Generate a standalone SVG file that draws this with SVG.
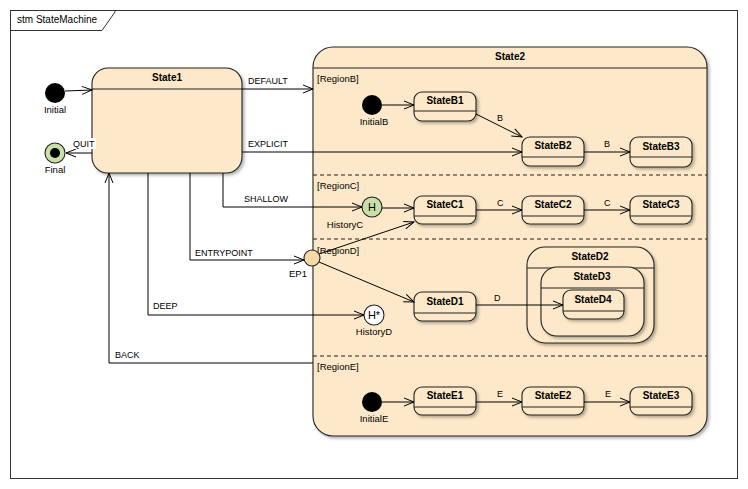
<svg xmlns="http://www.w3.org/2000/svg" width="748" height="489" viewBox="0 0 748 489">
<defs>
<filter id="sh" x="-10%" y="-10%" width="130%" height="130%"><feDropShadow dx="2" dy="2" stdDeviation="1.5" flood-color="#000" flood-opacity="0.3"/></filter>
<marker id="arr" markerWidth="12" markerHeight="10" refX="11" refY="5" orient="auto" markerUnits="userSpaceOnUse"><path d="M1,1 L11,5 L1,9" fill="none" stroke="#000" stroke-width="1"/></marker>
</defs>
<style>
.st{fill:#fde9c9;stroke:#222;stroke-width:1.1;filter:url(#sh)}
.hl{stroke:#222;stroke-width:1.1;fill:none}
.sep{stroke:#222;stroke-width:1;stroke-dasharray:4,3;fill:none}
.tr{fill:none;stroke:#000;stroke-width:1;marker-end:url(#arr)}
.tn{font-family:"Liberation Sans",Arial,sans-serif;font-size:10px;font-weight:bold;fill:#000;text-anchor:middle}
.lb{font-family:"Liberation Sans",Arial,sans-serif;font-size:9px;fill:#000}
.nl{font-family:"Liberation Sans",Arial,sans-serif;font-size:9.5px;fill:#000;text-anchor:middle}
.rg{font-family:"Liberation Sans",Arial,sans-serif;font-size:9.5px;fill:#000}
</style>
<rect x="0" y="0" width="748" height="489" fill="#fff"/>
<g id="frame">
<rect x="10.5" y="10.5" width="727" height="468" fill="#fff" stroke="#333" stroke-width="1"/>
<path d="M10.5,30.5 H102 L115,12 V10.5" fill="none" stroke="#333" stroke-width="1"/>
<text x="17" y="23" class="lb" style="font-size:10px">stm StateMachine</text>
</g>
<g id="State1">
<rect class="st" x="92" y="68" width="150" height="105" rx="16"/>
<line class="hl" x1="92" y1="89" x2="242" y2="89"/>
<text class="tn" x="167" y="81">State1</text>
</g>
<g id="Initial">
<circle cx="55" cy="93" r="10" fill="#000"/>
<text class="nl" x="55" y="113">Initial</text>
</g>
<g id="Final">
<circle cx="55" cy="153" r="10" fill="#c8e0a8" stroke="#222" stroke-width="1.1"/>
<circle cx="55" cy="153" r="5" fill="#000"/>
<text class="nl" x="55" y="173">Final</text>
</g>
<g id="State2">
<rect class="st" x="313" y="47" width="394" height="389" rx="20"/>
<line class="hl" x1="313" y1="68" x2="707" y2="68"/>
<text class="tn" x="510" y="60">State2</text>
<line class="sep" x1="313" y1="175" x2="707" y2="175"/>
<line class="sep" x1="313" y1="239" x2="707" y2="239"/>
<line class="sep" x1="313" y1="356" x2="707" y2="356"/>
<text class="rg" x="317" y="82">[RegionB]</text>
<text class="rg" x="317" y="189">[RegionC]</text>
<text class="rg" x="317" y="254">[RegionD]</text>
<text class="rg" x="317" y="370">[RegionE]</text>
</g>
<g id="InitialB">
<circle cx="372" cy="105" r="10" fill="#000"/>
<text class="nl" x="374" y="125">InitialB</text>
</g>
<g id="StateB1">
<rect class="st" x="414" y="92" width="62" height="29" rx="8"/>
<line class="hl" x1="414" y1="111" x2="476" y2="111"/>
<text class="tn" x="445" y="104">StateB1</text>
</g>
<g id="StateB2">
<rect class="st" x="522" y="137" width="62" height="29" rx="8"/>
<line class="hl" x1="522" y1="157" x2="584" y2="157"/>
<text class="tn" x="553" y="149">StateB2</text>
</g>
<g id="StateB3">
<rect class="st" x="630" y="137" width="62" height="30" rx="8"/>
<line class="hl" x1="630" y1="157" x2="692" y2="157"/>
<text class="tn" x="661" y="150">StateB3</text>
</g>
<g id="HistoryC">
<circle cx="372" cy="207" r="10" fill="#c8e0a8" stroke="#222" stroke-width="1.1"/>
<text class="nl" x="372" y="211" style="font-size:11px">H</text>
<text class="nl" x="345" y="228">HistoryC</text>
</g>
<g id="StateC1">
<rect class="st" x="414" y="196" width="62" height="28" rx="8"/>
<line class="hl" x1="414" y1="216" x2="476" y2="216"/>
<text class="tn" x="445" y="208">StateC1</text>
</g>
<g id="StateC2">
<rect class="st" x="522" y="196" width="62" height="28" rx="8"/>
<line class="hl" x1="522" y1="216" x2="584" y2="216"/>
<text class="tn" x="553" y="208">StateC2</text>
</g>
<g id="StateC3">
<rect class="st" x="630" y="196" width="62" height="28" rx="8"/>
<line class="hl" x1="630" y1="216" x2="692" y2="216"/>
<text class="tn" x="661" y="208">StateC3</text>
</g>
<g id="EP1">
<circle cx="312" cy="258" r="8" fill="#f7d8a8" stroke="#222" stroke-width="1.1"/>
<text class="nl" x="298" y="277">EP1</text>
</g>
<g id="StateD1">
<rect class="st" x="414" y="292" width="62" height="29" rx="8"/>
<line class="hl" x1="414" y1="313" x2="476" y2="313"/>
<text class="tn" x="445" y="305">StateD1</text>
</g>
<g id="HistoryD">
<circle cx="374" cy="315" r="10" fill="#fff" stroke="#222" stroke-width="1.1"/>
<text class="nl" x="374" y="319" style="font-size:11px">H*</text>
<text class="nl" x="374" y="335">HistoryD</text>
</g>
<g id="StateD2">
<rect class="st" x="527" y="247" width="127" height="96" rx="18"/>
<line class="hl" x1="527" y1="268" x2="654" y2="268"/>
<text class="tn" x="590" y="260">StateD2</text>
</g>
<g id="StateD3">
<rect class="st" x="541" y="267" width="103" height="69" rx="16"/>
<line class="hl" x1="541" y1="288" x2="644" y2="288"/>
<text class="tn" x="592" y="280">StateD3</text>
</g>
<g id="StateD4">
<rect class="st" x="563" y="290" width="61" height="29" rx="8"/>
<line class="hl" x1="563" y1="311" x2="624" y2="311"/>
<text class="tn" x="593" y="303">StateD4</text>
</g>
<g id="InitialE">
<circle cx="372" cy="402" r="10" fill="#000"/>
<text class="nl" x="374" y="422">InitialE</text>
</g>
<g id="StateE1">
<rect class="st" x="414" y="387" width="62" height="28" rx="8"/>
<line class="hl" x1="414" y1="407" x2="476" y2="407"/>
<text class="tn" x="445" y="399">StateE1</text>
</g>
<g id="StateE2">
<rect class="st" x="522" y="387" width="62" height="28" rx="8"/>
<line class="hl" x1="522" y1="407" x2="584" y2="407"/>
<text class="tn" x="553" y="399">StateE2</text>
</g>
<g id="StateE3">
<rect class="st" x="630" y="387" width="62" height="28" rx="8"/>
<line class="hl" x1="630" y1="407" x2="692" y2="407"/>
<text class="tn" x="661" y="399">StateE3</text>
</g>
<g id="connectors">
<path class="tr" d="M65,91 L92,90"/>
<path class="tr" d="M92,153 L66,153"/>
<path class="tr" d="M242,89 L313,89"/>
<path class="tr" d="M242,152 L522,152"/>
<path class="tr" d="M223,173 L223,207 L362,207"/>
<path class="tr" d="M190,173 L190,260 L304,260"/>
<path class="tr" d="M148,173 L148,315 L364,315"/>
<path class="tr" d="M313,363 L109,363 L109,173"/>
<path class="tr" d="M382,105 L414,105"/>
<path class="tr" d="M476,114 L522,137"/>
<path class="tr" d="M584,152 L630,152"/>
<path class="tr" d="M382,208 L414,208"/>
<path class="tr" d="M319,254 L414,222"/>
<path class="tr" d="M476,210 L522,210"/>
<path class="tr" d="M584,210 L630,210"/>
<path class="tr" d="M319,262 L414,302"/>
<path class="tr" d="M476,305 L563,305"/>
<path class="tr" d="M382,402 L414,402"/>
<path class="tr" d="M476,402 L522,402"/>
<path class="tr" d="M584,402 L630,402"/>
<rect x="72" y="138" width="24" height="11" fill="#fff"/>
<text class="lb" x="73" y="147">QUIT</text>
<text class="lb" x="248" y="84">DEFAULT</text>
<text class="lb" x="248" y="147">EXPLICIT</text>
<text class="lb" x="244" y="202">SHALLOW</text>
<text class="lb" x="195" y="256">ENTRYPOINT</text>
<text class="lb" x="153" y="309">DEEP</text>
<text class="lb" x="115" y="358">BACK</text>
<text class="lb" x="497" y="121">B</text>
<text class="lb" x="604" y="147">B</text>
<text class="lb" x="497" y="206">C</text>
<text class="lb" x="604" y="206">C</text>
<text class="lb" x="494" y="301">D</text>
<text class="lb" x="497" y="397">E</text>
<text class="lb" x="605" y="397">E</text>
</g>
</svg>
